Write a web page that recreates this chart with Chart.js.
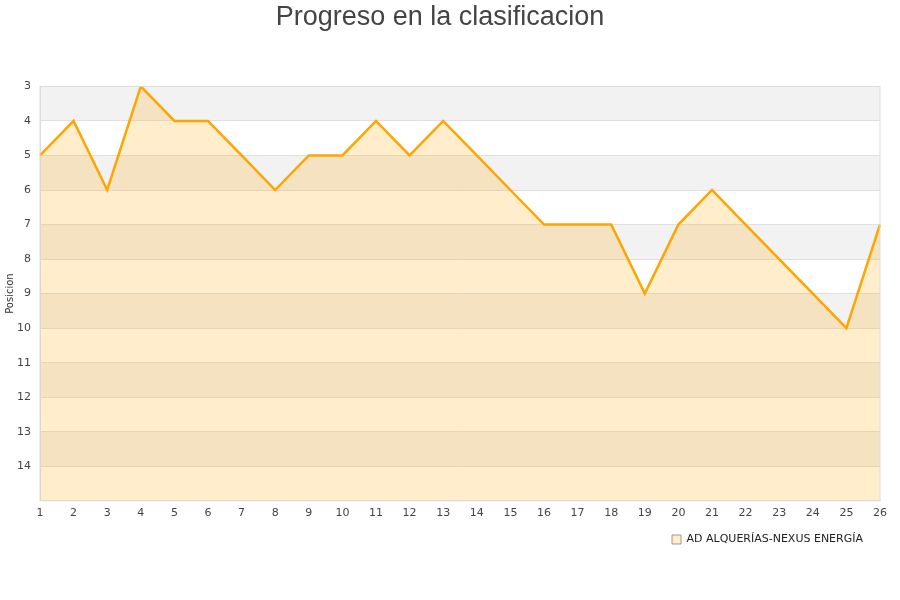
<!DOCTYPE html>
<html>
<head>
<meta charset="utf-8">
<script src="https://cdn.jsdelivr.net/npm/chart.js@4"></script>
<style>
  body { margin: 0; background: #fff; }
  #wrap { width: 900px; height: 600px; }
</style>
</head>
<body>
<div id="wrap"><canvas id="chart"></canvas></div>
<script>
// Jornadas y posicion del equipo
const jornadas = ['1','2','3','4','5','6','7','8','9','10','11','12','13','14','15','16','17','18','19','20','21','22','23','24','25','26'];
const posiciones = [5, 4, 6, 3, 4, 4, 5, 6, 5, 5, 4, 5, 4, 5, 6, 7, 7, 7, 9, 7, 6, 7, 8, 9, 10, 7];
const equipo = 'AD ALQUERÍAS-NEXUS ENERGÍA';
const posMin = 3;
const posMax = 15;

// franjas grises alternas detras del grafico + marco
const bandas = {
    id: 'bandas',
    afterLayout(chart) {
        // la leyenda queda un poco mas a la izquierda
        chart.legend.left -= 9;
        chart.legend.right -= 9;
    },
    beforeDraw(chart) {
        const { ctx, chartArea, scales } = chart;
        ctx.save();
        for (let p = posMin; p < posMax; p += 2) {
            const y1 = scales.y.getPixelForValue(p);
            const y2 = scales.y.getPixelForValue(p + 1);
            ctx.fillStyle = '#f2f2f2';
            ctx.fillRect(chartArea.left, y1, chartArea.right - chartArea.left, y2 - y1);
        }
        ctx.restore();
    },
    afterDraw(chart) {
        const { ctx, chartArea } = chart;
        ctx.save();
        ctx.strokeStyle = '#ddd';
        ctx.lineWidth = 1;
        ctx.strokeRect(chartArea.left, chartArea.top, chartArea.right - chartArea.left, chartArea.bottom - chartArea.top);
        ctx.restore();
    }
};

const ctx = document.getElementById('chart').getContext('2d');
const myChart = new Chart(ctx, {
    type: 'line',
    data: {
        labels: jornadas,
        datasets: [{
            label: equipo,
            data: posiciones,
            borderColor: '#FFA500',
            backgroundColor: 'rgba(255,165,0,0.2)',
            borderWidth: 2.5,
            fill: { value: posMax },
            pointRadius: 0,
            tension: 0
        }]
    },
    options: {
        responsive: true,
        maintainAspectRatio: false,
        animation: false,
        layout: { padding: { left: 0, right: 20, top: 1, bottom: 45 } },
        plugins: {
            title: {
                display: true,
                text: 'Progreso en la clasificacion',
                color: '#444',
                font: { family: 'Liberation Sans', size: 27, weight: 'normal' },
                padding: { top: 0, bottom: 53 }
            },
            legend: {
                position: 'bottom',
                align: 'end',
                labels: {
                    boxWidth: 9,
                    boxHeight: 9,
                    color: '#222',
                    padding: 8,
                    font: { family: 'DejaVu Sans', size: 11 },
                    generateLabels(chart) {
                        const items = Chart.defaults.plugins.legend.labels.generateLabels(chart);
                        items.forEach(it => { it.strokeStyle = '#999'; it.lineWidth = 1; });
                        return items;
                    }
                }
            },
            tooltip: { enabled: false }
        },
        scales: {
            x: {
                grid: { display: false, drawTicks: false },
                border: { display: true, color: '#ddd' },
                ticks: { color: '#444', font: { family: 'DejaVu Sans', size: 11 }, padding: 6, maxRotation: 0, autoSkip: false }
            },
            y: {
                reverse: true,
                min: posMin,
                max: posMax,
                afterFit(scale) { scale.width = 40; },
                grid: { color: '#e0e0e0', drawTicks: false },
                border: { display: true, color: '#ddd' },
                ticks: {
                    stepSize: 1,
                    color: '#444',
                    font: { family: 'DejaVu Sans', size: 11 },
                    padding: 9,
                    callback: v => (v === posMax ? '' : v)
                },
                title: {
                    display: true,
                    text: 'Posicion',
                    color: '#333',
                    font: { family: 'DejaVu Sans', size: 10 },
                    padding: { top: 4, bottom: 0 }
                }
            }
        }
    },
    plugins: [bandas]
});
</script>
</body>
</html>
